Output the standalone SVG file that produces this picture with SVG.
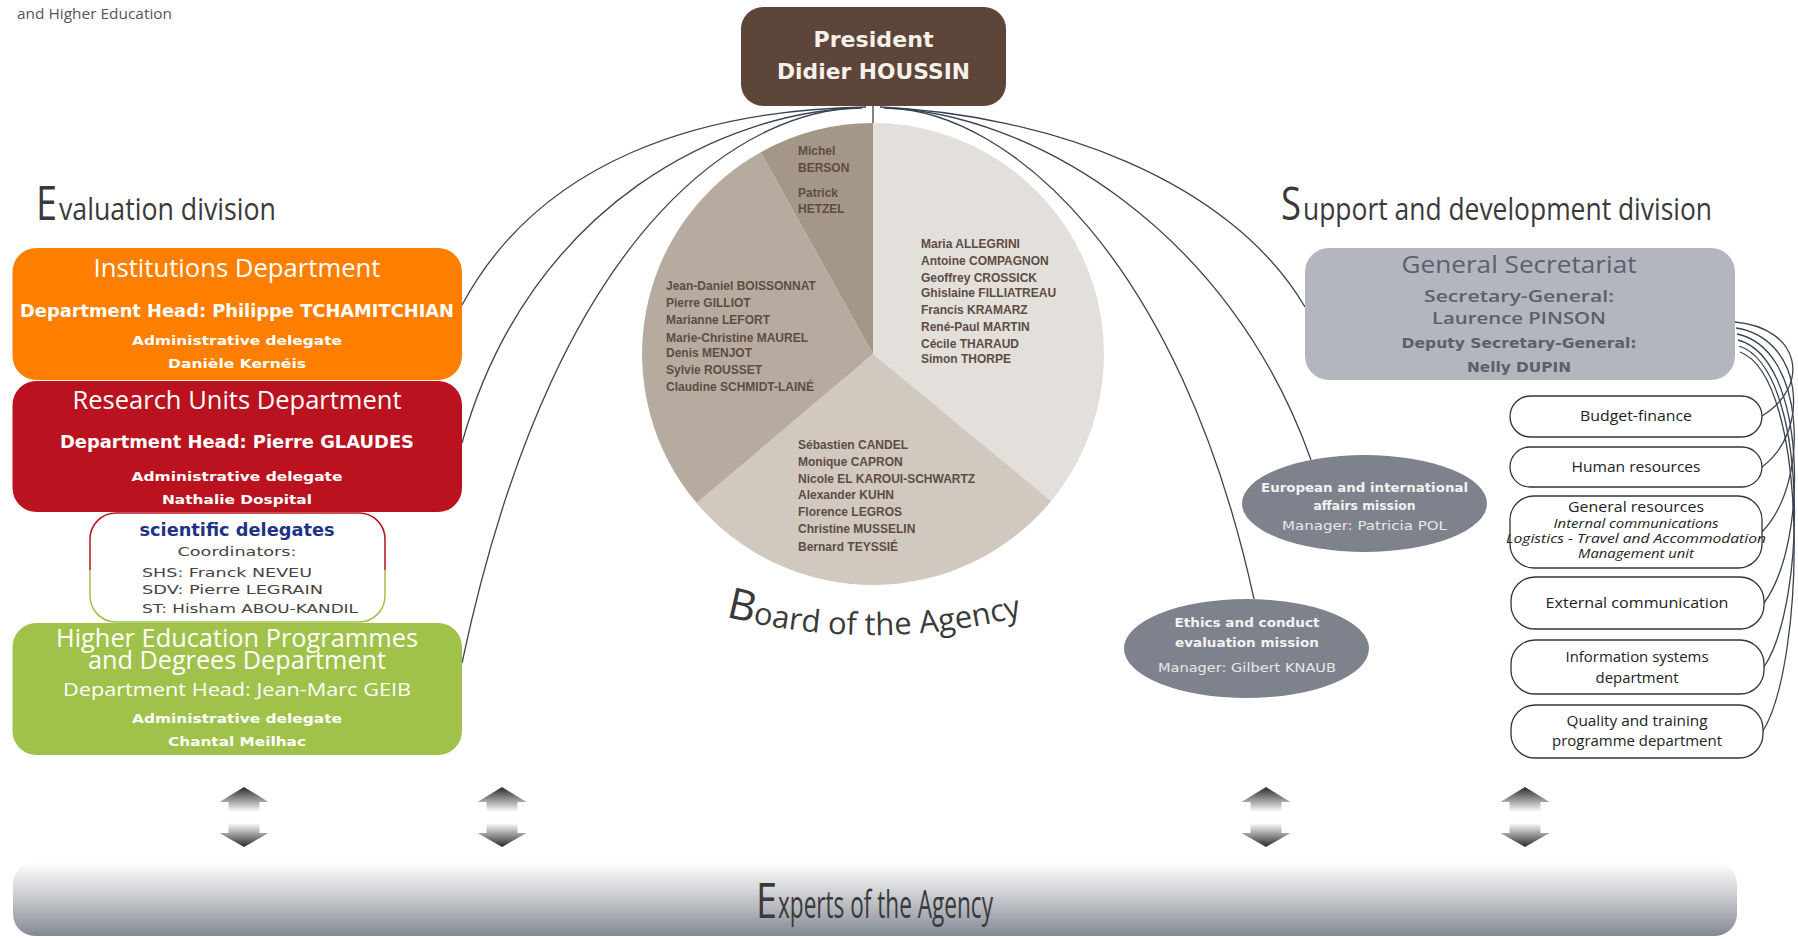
<svg xmlns="http://www.w3.org/2000/svg" width="1798" height="939" viewBox="0 0 1798 939">
<defs>
<style>
.os{font-family:"Open Sans","Liberation Sans",sans-serif}
.dvb{font-family:"DejaVu Sans","Liberation Sans",sans-serif;font-weight:bold}
.mid{text-anchor:middle}
.title{fill:#fff;font-family:"Open Sans","Liberation Sans",sans-serif;font-size:25px;text-anchor:middle}
.sub{fill:#fff;font-family:"DejaVu Sans","Liberation Sans",sans-serif;font-weight:bold;font-size:17px;text-anchor:middle}
.adm{fill:#fff;font-family:"DejaVu Sans","Liberation Sans",sans-serif;font-weight:bold;font-size:13px;text-anchor:middle}
.head{font-family:"Open Sans","Liberation Sans",sans-serif;fill:#3A3A3A}
.pie{font-family:"Liberation Sans",Arial,sans-serif;font-weight:bold;font-size:12px;fill:#5E4C43}
.pill{fill:#fff;stroke:#333;stroke-width:1.3}
.pt{font-family:"Open Sans","Liberation Sans",sans-serif;font-size:15px;fill:#222;text-anchor:middle}
.pti{font-family:"Open Sans","Liberation Sans",sans-serif;font-style:italic;font-size:13px;fill:#222;text-anchor:middle}
.conn{fill:none;stroke:#3A4352;stroke-width:1.3}
.ell{fill:#7E828D}
.et{font-family:"DejaVu Sans","Liberation Sans",sans-serif;font-weight:bold;font-size:12px;fill:#F2F2F2;text-anchor:middle}
.em{font-family:"DejaVu Sans","Liberation Sans",sans-serif;font-size:12px;fill:#E8E8E8;text-anchor:middle}
.gs{fill:#5A6070;text-anchor:middle}
.sci{font-family:"DejaVu Sans","Liberation Sans",sans-serif;font-size:13px;fill:#444}
</style>
<linearGradient id="gUp" x1="0" y1="0" x2="0" y2="1"><stop offset="0" stop-color="#2a2a2a"/><stop offset="1" stop-color="#ffffff"/></linearGradient>
<linearGradient id="gDown" x1="0" y1="0" x2="0" y2="1"><stop offset="0" stop-color="#ffffff"/><stop offset="1" stop-color="#2a2a2a"/></linearGradient>
<linearGradient id="gBar" x1="0" y1="0" x2="0" y2="1"><stop offset="0" stop-color="#ffffff"/><stop offset="0.35" stop-color="#d8d9dc"/><stop offset="1" stop-color="#858995"/></linearGradient>
<g id="arrowpair">
<path fill="url(#gUp)" d="M0 787 L24.5 802 L15.5 802 L15.5 812 L-15.5 812 L-15.5 802 L-24.5 802 Z"/>
<path fill="url(#gDown)" d="M-15.5 823 L15.5 823 L15.5 833 L24.5 833 L0 847 L-24.5 833 L-15.5 833 Z"/>
</g>
<clipPath id="topHalf"><rect x="80" y="505" width="320" height="65"/></clipPath>
<clipPath id="botHalf"><rect x="80" y="570" width="320" height="60"/></clipPath>
<path id="boardArc" d="M 712 613 A 597 597 0 0 0 1034 613"/>
</defs>
<rect x="0" y="0" width="1798" height="939" fill="#fff"/>

<g id="connectors">
<line class="conn" x1="873" y1="106" x2="873" y2="123"/>
<path class="conn" d="M 866 107 C 700 110, 540 160, 462 305"/>
<path class="conn" d="M 862 108 C 730 110, 530 200, 462 443"/>
<path class="conn" d="M 858 108 C 760 110, 560 200, 462 663"/>
<path class="conn" d="M 880 107 C 1050 115, 1230 180, 1305 307"/>
<path class="conn" d="M 884 108 C 1030 112, 1230 230, 1311 460"/>
<path class="conn" d="M 888 108 C 1010 112, 1180 260, 1254 599"/>
<path class="conn" d="M 1735 322 C 1800 328, 1812 385, 1762 416"/>
<path class="conn" d="M 1736 328 C 1802 338, 1812 430, 1762 467"/>
<path class="conn" d="M 1737 334 C 1804 348, 1812 480, 1762 532"/>
<path class="conn" d="M 1738 340 C 1806 358, 1810 540, 1764 603"/>
<path class="conn" d="M 1739 346 C 1808 368, 1808 600, 1764 667"/>
<path class="conn" d="M 1740 352 C 1810 378, 1806 660, 1763 731"/>
</g>

<g id="header-text">
<text x="17" y="19" class="os" font-size="15" fill="#555" textLength="155" lengthAdjust="spacingAndGlyphs">and Higher Education</text>
</g>

<g id="evaluation-heading">
<text x="36" y="220" class="head" font-size="48" textLength="21" lengthAdjust="spacingAndGlyphs">E</text>
<text x="59" y="220" class="head" font-size="31" textLength="217" lengthAdjust="spacingAndGlyphs">valuation division</text>
</g>

<g id="support-heading">
<text x="1281" y="220" class="head" font-size="46" textLength="20" lengthAdjust="spacingAndGlyphs">S</text>
<text x="1303" y="220" class="head" font-size="31" textLength="409" lengthAdjust="spacingAndGlyphs">upport and development division</text>
</g>

<g id="president">
<rect x="741" y="7" width="265" height="99" rx="22" fill="#5D4639"/>
<text x="873.5" y="47" class="dvb mid" font-size="22" fill="#F5F0EA" textLength="120" lengthAdjust="spacingAndGlyphs">President</text>
<text x="873.5" y="79" class="dvb mid" font-size="22" fill="#F5F0EA" textLength="193" lengthAdjust="spacingAndGlyphs">Didier HOUSSIN</text>
</g>

<g id="institutions-department">
<rect x="12.5" y="248" width="449.5" height="132" rx="24" fill="#FE7F00"/>
<text x="237" y="277" class="title" textLength="287" lengthAdjust="spacingAndGlyphs">Institutions Department</text>
<text x="237" y="317" class="sub" textLength="434" lengthAdjust="spacingAndGlyphs">Department Head: Philippe TCHAMITCHIAN</text>
<text x="237" y="345" class="adm" textLength="210" lengthAdjust="spacingAndGlyphs">Administrative delegate</text>
<text x="237" y="368" class="adm" textLength="138" lengthAdjust="spacingAndGlyphs">Danièle Kernéis</text>
</g>

<g id="research-units-department">
<rect x="12.5" y="381" width="449.5" height="131" rx="24" fill="#BB1220"/>
<text x="237" y="409" class="title" textLength="329" lengthAdjust="spacingAndGlyphs">Research Units Department</text>
<text x="237" y="448" class="sub" textLength="354" lengthAdjust="spacingAndGlyphs">Department Head: Pierre GLAUDES</text>
<text x="237" y="481" class="adm" textLength="211" lengthAdjust="spacingAndGlyphs">Administrative delegate</text>
<text x="237" y="504" class="adm" textLength="150" lengthAdjust="spacingAndGlyphs">Nathalie Dospital</text>
</g>

<g id="higher-education-department">
<rect x="12.5" y="623" width="449.5" height="132" rx="24" fill="#A0C24A"/>
<text x="237" y="647" class="title" font-size="23" textLength="362" lengthAdjust="spacingAndGlyphs">Higher Education Programmes</text>
<text x="237" y="669" class="title" font-size="23" textLength="298" lengthAdjust="spacingAndGlyphs">and Degrees Department</text>
<text x="237" y="696" class="os mid" font-size="18" fill="#fff" textLength="348" lengthAdjust="spacingAndGlyphs">Department Head: Jean-Marc GEIB</text>
<text x="237" y="723" class="adm" textLength="210" lengthAdjust="spacingAndGlyphs">Administrative delegate</text>
<text x="237" y="746" class="adm" textLength="138" lengthAdjust="spacingAndGlyphs">Chantal Meilhac</text>
</g>

<g id="scientific-delegates">
<rect x="90" y="513" width="295" height="109" rx="26" fill="#fff"/>
<rect x="90" y="513" width="295" height="109" rx="26" fill="none" stroke="#BB1220" stroke-width="1.5" clip-path="url(#topHalf)"/>
<rect x="90" y="513" width="295" height="109" rx="26" fill="none" stroke="#9DC148" stroke-width="1.5" clip-path="url(#botHalf)"/>
<text x="237" y="536" class="dvb mid" font-size="17" fill="#1F3384" textLength="195" lengthAdjust="spacingAndGlyphs">scientific delegates</text>
<text x="237" y="556" class="sci mid" textLength="119" lengthAdjust="spacingAndGlyphs">Coordinators:</text>
<text x="142" y="577" class="sci" textLength="170" lengthAdjust="spacingAndGlyphs">SHS: Franck NEVEU</text>
<text x="142" y="594" class="sci" textLength="181" lengthAdjust="spacingAndGlyphs">SDV: Pierre LEGRAIN</text>
<text x="142" y="613" class="sci" textLength="216" lengthAdjust="spacingAndGlyphs">ST: Hisham ABOU-KANDIL</text>
</g>

<g id="board-of-the-agency">
<path d="M 873 354 L 873 123 A 231 231 0 0 1 1051.2 500.9 Z" fill="#E3DFDB"/>
<path d="M 873 354 L 1051.2 500.9 A 231 231 0 0 1 696.6 503.1 Z" fill="#D1C8BF"/>
<path d="M 873 354 L 696.6 503.1 A 231 231 0 0 1 760.7 152.2 Z" fill="#B7AB9F"/>
<path d="M 873 354 L 760.7 152.2 A 231 231 0 0 1 873 123 Z" fill="#A49787"/>
<text class="pie" x="798" y="155">Michel</text>
<text class="pie" x="798" y="172">BERSON</text>
<text class="pie" x="798" y="197">Patrick</text>
<text class="pie" x="798" y="213">HETZEL</text>
<text class="pie" x="921" y="248">Maria ALLEGRINI</text>
<text class="pie" x="921" y="265">Antoine COMPAGNON</text>
<text class="pie" x="921" y="282">Geoffrey CROSSICK</text>
<text class="pie" x="921" y="297">Ghislaine FILLIATREAU</text>
<text class="pie" x="921" y="314">Francis KRAMARZ</text>
<text class="pie" x="921" y="331">René-Paul MARTIN</text>
<text class="pie" x="921" y="348">Cécile THARAUD</text>
<text class="pie" x="921" y="363">Simon THORPE</text>
<text class="pie" x="666" y="290">Jean-Daniel BOISSONNAT</text>
<text class="pie" x="666" y="307">Pierre GILLIOT</text>
<text class="pie" x="666" y="324">Marianne LEFORT</text>
<text class="pie" x="666" y="342">Marie-Christine MAUREL</text>
<text class="pie" x="666" y="357">Denis MENJOT</text>
<text class="pie" x="666" y="374">Sylvie ROUSSET</text>
<text class="pie" x="666" y="391">Claudine SCHMIDT-LAINÉ</text>
<text class="pie" x="798" y="449">Sébastien CANDEL</text>
<text class="pie" x="798" y="466">Monique CAPRON</text>
<text class="pie" x="798" y="483">Nicole EL KAROUI-SCHWARTZ</text>
<text class="pie" x="798" y="499">Alexander KUHN</text>
<text class="pie" x="798" y="516">Florence LEGROS</text>
<text class="pie" x="798" y="533">Christine MUSSELIN</text>
<text class="pie" x="798" y="551">Bernard TEYSSIÉ</text>
<text class="head" font-size="31" fill="#333"><textPath href="#boardArc" startOffset="14"><tspan font-size="43">B</tspan>oard of the Agency</textPath></text>
</g>

<g id="general-secretariat">
<rect x="1305" y="248" width="430" height="132" rx="24" fill="#B3B6BD"/>
<text x="1519" y="273" class="os gs" font-size="24" textLength="235" lengthAdjust="spacingAndGlyphs">General Secretariat</text>
<text x="1519" y="302" class="os gs" font-size="17" font-weight="600" textLength="190" lengthAdjust="spacingAndGlyphs">Secretary-General:</text>
<text x="1519" y="324" class="os gs" font-size="17" font-weight="600" textLength="174" lengthAdjust="spacingAndGlyphs">Laurence PINSON</text>
<text x="1519" y="348" class="dvb gs" font-size="14" textLength="235" lengthAdjust="spacingAndGlyphs">Deputy Secretary-General:</text>
<text x="1519" y="372" class="dvb gs" font-size="14" textLength="104" lengthAdjust="spacingAndGlyphs">Nelly DUPIN</text>
</g>

<g id="budget-finance">
<rect class="pill" x="1510" y="396" width="252" height="41" rx="20.5"/>
<text class="pt" x="1636" y="421" textLength="112" lengthAdjust="spacingAndGlyphs">Budget-finance</text>
</g>
<g id="human-resources">
<rect class="pill" x="1510" y="447" width="252" height="40" rx="20"/>
<text class="pt" x="1636" y="472" textLength="129" lengthAdjust="spacingAndGlyphs">Human resources</text>
</g>
<g id="general-resources">
<rect class="pill" x="1510" y="496" width="252" height="72" rx="24"/>
<text class="pt" x="1636" y="512" textLength="136" lengthAdjust="spacingAndGlyphs">General resources</text>
<text class="pti" x="1636" y="528" textLength="165" lengthAdjust="spacingAndGlyphs">Internal communications</text>
<text class="pti" x="1636" y="543" textLength="260" lengthAdjust="spacingAndGlyphs">Logistics - Travel and Accommodation</text>
<text class="pti" x="1636" y="558" textLength="116" lengthAdjust="spacingAndGlyphs">Management unit</text>
</g>
<g id="external-communication">
<rect class="pill" x="1511" y="577" width="253" height="52" rx="24"/>
<text class="pt" x="1637" y="608" textLength="183" lengthAdjust="spacingAndGlyphs">External communication</text>
</g>
<g id="information-systems">
<rect class="pill" x="1511" y="640" width="253" height="54" rx="24"/>
<text class="pt" x="1637" y="662" textLength="143" lengthAdjust="spacingAndGlyphs">Information systems</text>
<text class="pt" x="1637" y="683" textLength="83" lengthAdjust="spacingAndGlyphs">department</text>
</g>
<g id="quality-training">
<rect class="pill" x="1511" y="705" width="252" height="53" rx="24"/>
<text class="pt" x="1637" y="726" textLength="141" lengthAdjust="spacingAndGlyphs">Quality and training</text>
<text class="pt" x="1637" y="746" textLength="170" lengthAdjust="spacingAndGlyphs">programme department</text>
</g>

<g id="european-mission">
<ellipse class="ell" cx="1364.5" cy="503.5" rx="122.5" ry="48.5"/>
<text class="et" x="1364.5" y="492" textLength="207" lengthAdjust="spacingAndGlyphs">European and international</text>
<text class="et" x="1364.5" y="510" textLength="102" lengthAdjust="spacingAndGlyphs">affairs mission</text>
<text class="em" x="1364.5" y="530" textLength="165" lengthAdjust="spacingAndGlyphs">Manager: Patricia POL</text>
</g>

<g id="ethics-mission">
<ellipse class="ell" cx="1246.5" cy="648.5" rx="122.5" ry="49.5"/>
<text class="et" x="1247" y="627" textLength="145" lengthAdjust="spacingAndGlyphs">Ethics and conduct</text>
<text class="et" x="1247" y="647" textLength="144" lengthAdjust="spacingAndGlyphs">evaluation mission</text>
<text class="em" x="1247" y="672" textLength="178" lengthAdjust="spacingAndGlyphs">Manager: Gilbert KNAUB</text>
</g>

<g id="arrows">
<use href="#arrowpair" x="244"/>
<use href="#arrowpair" x="502"/>
<use href="#arrowpair" x="1266"/>
<use href="#arrowpair" x="1525"/>
</g>

<g id="experts">
<rect x="13" y="862" width="1724" height="74" rx="22" fill="url(#gBar)"/>
<text x="756" y="918" class="head" font-size="50" textLength="21" lengthAdjust="spacingAndGlyphs">E</text>
<text x="778" y="918" class="head" font-size="38" textLength="215" lengthAdjust="spacingAndGlyphs">xperts of the Agency</text>
</g>
</svg>
